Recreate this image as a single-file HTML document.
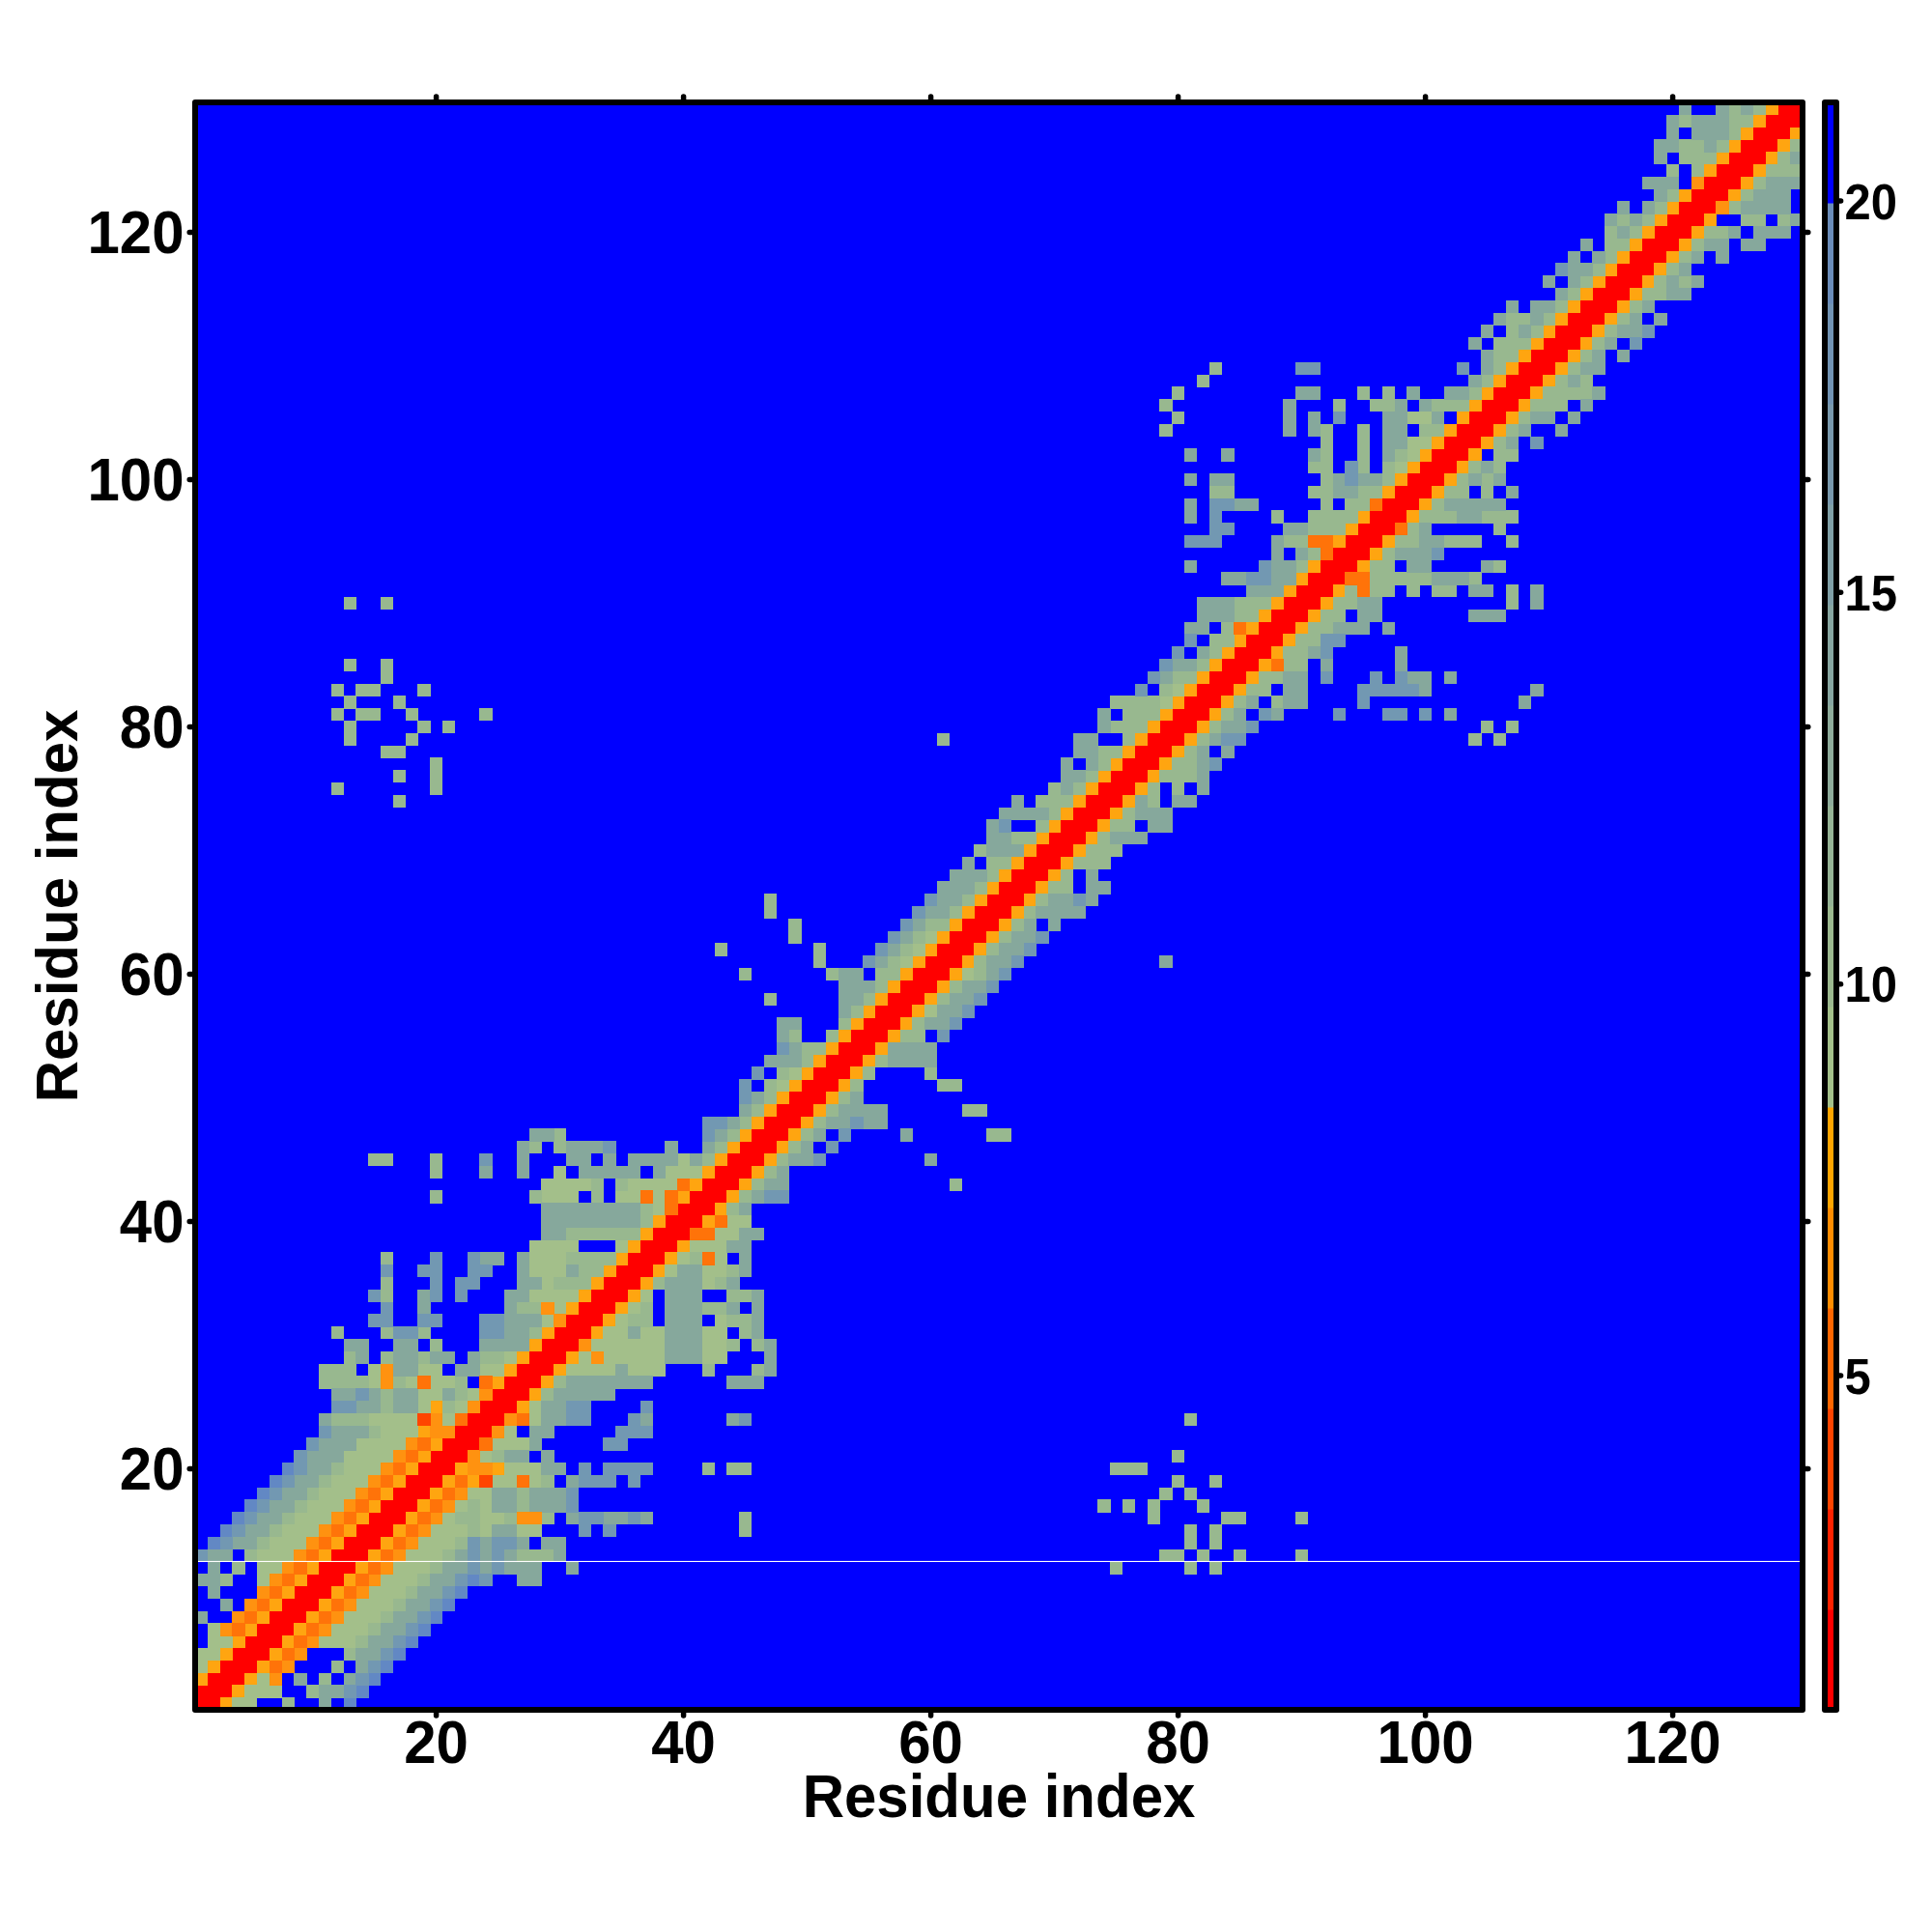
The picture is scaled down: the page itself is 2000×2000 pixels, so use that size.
<!DOCTYPE html>
<html lang="en"><head><meta charset="utf-8"><title>Residue contact map</title>
<style>html,body{margin:0;padding:0;background:#fff}body{width:2000px;height:2000px;overflow:hidden}svg{display:block}text{font-family:"Liberation Sans",Arial,Helvetica,sans-serif;font-weight:bold;fill:#000}.tl{font-size:60px}.cl{font-size:49px}.ttl{font-size:60px}</style></head><body>
<svg width="2000" height="2000" viewBox="0 0 2000 2000">
<rect x="0" y="0" width="2000" height="2000" fill="#fff"/>
<rect x="202" y="106" width="1664" height="1664" fill="#0000ff"/>
<g shape-rendering="crispEdges">
<path fill="#ff0000" d="M202 1757.2h25.9v13.1h-25.9zM202 1744.4h38.7v13.1h-38.7zM214.8 1731.6h38.7v13.1h-38.7zM227.6 1718.8h38.7v13.1h-38.7zM240.4 1706h38.7v13.1h-38.7zM253.2 1693.2h38.7v13.1h-38.7zM266 1680.4h38.7v13.1h-38.7zM278.8 1667.6h38.7v13.1h-38.7zM291.6 1654.8h38.7v13.1h-38.7zM304.4 1642h38.7v13.1h-38.7zM317.2 1629.2h38.7v13.1h-38.7zM330 1616.4h38.7v13.1h-38.7zM342.8 1603.6h38.7v13.1h-38.7zM355.6 1590.8h38.7v13.1h-38.7zM368.4 1578h38.7v13.1h-38.7zM381.2 1565.2h38.7v13.1h-38.7zM394 1552.4h38.7v13.1h-38.7zM406.8 1539.6h38.7v13.1h-38.7zM419.6 1526.8h38.7v13.1h-38.7zM432.4 1514h38.7v13.1h-38.7zM445.2 1501.2h38.7v13.1h-38.7zM458 1488.4h38.7v13.1h-38.7zM470.8 1475.6h38.7v13.1h-38.7zM483.6 1462.8h38.7v13.1h-38.7zM496.4 1450h38.7v13.1h-38.7zM509.2 1437.2h38.7v13.1h-38.7zM522 1424.4h38.7v13.1h-38.7zM534.8 1411.6h38.7v13.1h-38.7zM547.6 1398.8h38.7v13.1h-38.7zM560.4 1386h38.7v13.1h-38.7zM573.2 1373.2h38.7v13.1h-38.7zM586 1360.4h38.7v13.1h-38.7zM598.8 1347.6h38.7v13.1h-38.7zM611.6 1334.8h38.7v13.1h-38.7zM624.4 1322h38.7v13.1h-38.7zM637.2 1309.2h38.7v13.1h-38.7zM650 1296.4h38.7v13.1h-38.7zM662.8 1283.6h38.7v13.1h-38.7zM675.6 1270.8h38.7v13.1h-38.7zM688.4 1258h38.7v13.1h-38.7zM701.2 1245.2h38.7v13.1h-38.7zM714 1232.4h38.7v13.1h-38.7zM726.8 1219.6h38.7v13.1h-38.7zM739.6 1206.8h38.7v13.1h-38.7zM752.4 1194h38.7v13.1h-38.7zM765.2 1181.2h38.7v13.1h-38.7zM778 1168.4h38.7v13.1h-38.7zM790.8 1155.6h38.7v13.1h-38.7zM803.6 1142.8h38.7v13.1h-38.7zM816.4 1130h38.7v13.1h-38.7zM829.2 1117.2h38.7v13.1h-38.7zM842 1104.4h38.7v13.1h-38.7zM854.8 1091.6h38.7v13.1h-38.7zM867.6 1078.8h38.7v13.1h-38.7zM880.4 1066h38.7v13.1h-38.7zM893.2 1053.2h38.7v13.1h-38.7zM906 1040.4h38.7v13.1h-38.7zM918.8 1027.6h38.7v13.1h-38.7zM931.6 1014.8h38.7v13.1h-38.7zM944.4 1002h38.7v13.1h-38.7zM957.2 989.2h38.7v13.1h-38.7zM970 976.4h38.7v13.1h-38.7zM982.8 963.6h38.7v13.1h-38.7zM995.6 950.8h38.7v13.1h-38.7zM1008.4 938h38.7v13.1h-38.7zM1021.2 925.2h38.7v13.1h-38.7zM1034 912.4h38.7v13.1h-38.7zM1046.8 899.6h38.7v13.1h-38.7zM1059.6 886.8h38.7v13.1h-38.7zM1072.4 874h38.7v13.1h-38.7zM1085.2 861.2h38.7v13.1h-38.7zM1098 848.4h38.7v13.1h-38.7zM1110.8 835.6h38.7v13.1h-38.7zM1123.6 822.8h38.7v13.1h-38.7zM1136.4 810h38.7v13.1h-38.7zM1149.2 797.2h38.7v13.1h-38.7zM1162 784.4h38.7v13.1h-38.7zM1174.8 771.6h38.7v13.1h-38.7zM1187.6 758.8h38.7v13.1h-38.7zM1200.4 746h38.7v13.1h-38.7zM1213.2 733.2h38.7v13.1h-38.7zM1226 720.4h38.7v13.1h-38.7zM1238.8 707.6h38.7v13.1h-38.7zM1251.6 694.8h38.7v13.1h-38.7zM1264.4 682h38.7v13.1h-38.7zM1277.2 669.2h38.7v13.1h-38.7zM1290 656.4h38.7v13.1h-38.7zM1302.8 643.6h38.7v13.1h-38.7zM1315.6 630.8h38.7v13.1h-38.7zM1328.4 618h38.7v13.1h-38.7zM1341.2 605.2h38.7v13.1h-38.7zM1354 592.4h38.7v13.1h-38.7zM1366.8 579.6h38.7v13.1h-38.7zM1379.6 566.8h38.7v13.1h-38.7zM1392.4 554h38.7v13.1h-38.7zM1405.2 541.2h38.7v13.1h-38.7zM1418 528.4h38.7v13.1h-38.7zM1430.8 515.6h38.7v13.1h-38.7zM1443.6 502.8h38.7v13.1h-38.7zM1456.4 490h38.7v13.1h-38.7zM1469.2 477.2h38.7v13.1h-38.7zM1482 464.4h38.7v13.1h-38.7zM1494.8 451.6h38.7v13.1h-38.7zM1507.6 438.8h38.7v13.1h-38.7zM1520.4 426h38.7v13.1h-38.7zM1533.2 413.2h38.7v13.1h-38.7zM1546 400.4h38.7v13.1h-38.7zM1558.8 387.6h38.7v13.1h-38.7zM1571.6 374.8h38.7v13.1h-38.7zM1584.4 362h38.7v13.1h-38.7zM1597.2 349.2h38.7v13.1h-38.7zM1610 336.4h38.7v13.1h-38.7zM1622.8 323.6h38.7v13.1h-38.7zM1635.6 310.8h38.7v13.1h-38.7zM1648.4 298h38.7v13.1h-38.7zM1661.2 285.2h38.7v13.1h-38.7zM1674 272.4h38.7v13.1h-38.7zM1686.8 259.6h38.7v13.1h-38.7zM1699.6 246.8h38.7v13.1h-38.7zM1712.4 234h38.7v13.1h-38.7zM1725.2 221.2h38.7v13.1h-38.7zM1738 208.4h38.7v13.1h-38.7zM1750.8 195.6h38.7v13.1h-38.7zM1763.6 182.8h38.7v13.1h-38.7zM1776.4 170h38.7v13.1h-38.7zM1789.2 157.2h38.7v13.1h-38.7zM1802 144.4h38.7v13.1h-38.7zM1814.8 131.6h38.7v13.1h-38.7zM1827.6 118.8h38.7v13.1h-38.7zM1840.4 106h25.9v13.1h-25.9z"/>
<path fill="#ffa510" d="M227.6 1757.2h13.1v13.1h-13.1zM240.4 1744.4h13.1v13.1h-13.1zM202 1731.6h13.1v13.1h-13.1zM253.2 1731.6h13.1v13.1h-13.1zM214.8 1718.8h13.1v13.1h-13.1zM266 1718.8h13.1v13.1h-13.1zM227.6 1706h13.1v13.1h-13.1zM278.8 1706h13.1v13.1h-13.1zM240.4 1693.2h13.1v13.1h-13.1zM291.6 1693.2h13.1v13.1h-13.1zM253.2 1680.4h13.1v13.1h-13.1zM304.4 1680.4h13.1v13.1h-13.1zM266 1667.6h13.1v13.1h-13.1zM317.2 1667.6h13.1v13.1h-13.1zM278.8 1654.8h13.1v13.1h-13.1zM330 1654.8h13.1v13.1h-13.1zM291.6 1642h13.1v13.1h-13.1zM342.8 1642h13.1v13.1h-13.1zM304.4 1629.2h13.1v13.1h-13.1zM355.6 1629.2h13.1v13.1h-13.1zM317.2 1616.4h13.1v13.1h-13.1zM368.4 1616.4h13.1v13.1h-13.1zM330 1603.6h13.1v13.1h-13.1zM381.2 1603.6h13.1v13.1h-13.1zM342.8 1590.8h13.1v13.1h-13.1zM394 1590.8h13.1v13.1h-13.1zM355.6 1578h13.1v13.1h-13.1zM406.8 1578h13.1v13.1h-13.1zM368.4 1565.2h13.1v13.1h-13.1zM419.6 1565.2h13.1v13.1h-13.1zM381.2 1552.4h13.1v13.1h-13.1zM432.4 1552.4h13.1v13.1h-13.1zM394 1539.6h13.1v13.1h-13.1zM445.2 1539.6h13.1v13.1h-13.1zM406.8 1526.8h13.1v13.1h-13.1zM458 1526.8h13.1v13.1h-13.1zM483.6 1526.8h13.1v13.1h-13.1zM419.6 1514h13.1v13.1h-13.1zM470.8 1514h13.1v13.1h-13.1zM509.2 1514h13.1v13.1h-13.1zM432.4 1501.2h13.1v13.1h-13.1zM445.2 1488.4h13.1v13.1h-13.1zM432.4 1475.6h13.1v13.1h-13.1zM445.2 1450h13.1v13.1h-13.1zM534.8 1450h13.1v13.1h-13.1zM547.6 1437.2h13.1v13.1h-13.1zM509.2 1424.4h13.1v13.1h-13.1zM560.4 1424.4h13.1v13.1h-13.1zM522 1411.6h13.1v13.1h-13.1zM573.2 1411.6h13.1v13.1h-13.1zM534.8 1398.8h13.1v13.1h-13.1zM586 1398.8h13.1v13.1h-13.1zM547.6 1386h13.1v13.1h-13.1zM560.4 1373.2h13.1v13.1h-13.1zM611.6 1373.2h13.1v13.1h-13.1zM624.4 1360.4h13.1v13.1h-13.1zM586 1347.6h13.1v13.1h-13.1zM637.2 1347.6h13.1v13.1h-13.1zM598.8 1334.8h13.1v13.1h-13.1zM650 1334.8h13.1v13.1h-13.1zM611.6 1322h13.1v13.1h-13.1zM662.8 1322h13.1v13.1h-13.1zM624.4 1309.2h13.1v13.1h-13.1zM675.6 1309.2h13.1v13.1h-13.1zM637.2 1296.4h13.1v13.1h-13.1zM688.4 1296.4h13.1v13.1h-13.1zM650 1283.6h13.1v13.1h-13.1zM701.2 1283.6h13.1v13.1h-13.1zM662.8 1270.8h13.1v13.1h-13.1zM675.6 1258h13.1v13.1h-13.1zM726.8 1258h13.1v13.1h-13.1zM739.6 1245.2h13.1v13.1h-13.1zM701.2 1232.4h13.1v13.1h-13.1zM752.4 1232.4h13.1v13.1h-13.1zM714 1219.6h13.1v13.1h-13.1zM765.2 1219.6h13.1v13.1h-13.1zM726.8 1206.8h13.1v13.1h-13.1zM778 1206.8h13.1v13.1h-13.1zM739.6 1194h13.1v13.1h-13.1zM790.8 1194h13.1v13.1h-13.1zM752.4 1181.2h13.1v13.1h-13.1zM803.6 1181.2h13.1v13.1h-13.1zM765.2 1168.4h13.1v13.1h-13.1zM816.4 1168.4h13.1v13.1h-13.1zM778 1155.6h13.1v13.1h-13.1zM829.2 1155.6h13.1v13.1h-13.1zM790.8 1142.8h13.1v13.1h-13.1zM842 1142.8h13.1v13.1h-13.1zM803.6 1130h13.1v13.1h-13.1zM854.8 1130h13.1v13.1h-13.1zM816.4 1117.2h13.1v13.1h-13.1zM867.6 1117.2h13.1v13.1h-13.1zM829.2 1104.4h13.1v13.1h-13.1zM880.4 1104.4h13.1v13.1h-13.1zM842 1091.6h13.1v13.1h-13.1zM893.2 1091.6h13.1v13.1h-13.1zM854.8 1078.8h13.1v13.1h-13.1zM906 1078.8h13.1v13.1h-13.1zM867.6 1066h13.1v13.1h-13.1zM918.8 1066h13.1v13.1h-13.1zM880.4 1053.2h13.1v13.1h-13.1zM931.6 1053.2h13.1v13.1h-13.1zM893.2 1040.4h13.1v13.1h-13.1zM944.4 1040.4h13.1v13.1h-13.1zM906 1027.6h13.1v13.1h-13.1zM957.2 1027.6h13.1v13.1h-13.1zM918.8 1014.8h13.1v13.1h-13.1zM970 1014.8h13.1v13.1h-13.1zM931.6 1002h13.1v13.1h-13.1zM982.8 1002h13.1v13.1h-13.1zM944.4 989.2h13.1v13.1h-13.1zM995.6 989.2h13.1v13.1h-13.1zM957.2 976.4h13.1v13.1h-13.1zM1008.4 976.4h13.1v13.1h-13.1zM970 963.6h13.1v13.1h-13.1zM1021.2 963.6h13.1v13.1h-13.1zM982.8 950.8h13.1v13.1h-13.1zM1034 950.8h13.1v13.1h-13.1zM995.6 938h13.1v13.1h-13.1zM1046.8 938h13.1v13.1h-13.1zM1008.4 925.2h13.1v13.1h-13.1zM1059.6 925.2h13.1v13.1h-13.1zM1021.2 912.4h13.1v13.1h-13.1zM1072.4 912.4h13.1v13.1h-13.1zM1034 899.6h13.1v13.1h-13.1zM1085.2 899.6h13.1v13.1h-13.1zM1046.8 886.8h13.1v13.1h-13.1zM1098 886.8h13.1v13.1h-13.1zM1059.6 874h13.1v13.1h-13.1zM1110.8 874h13.1v13.1h-13.1zM1072.4 861.2h13.1v13.1h-13.1zM1123.6 861.2h13.1v13.1h-13.1zM1085.2 848.4h13.1v13.1h-13.1zM1136.4 848.4h13.1v13.1h-13.1zM1098 835.6h13.1v13.1h-13.1zM1149.2 835.6h13.1v13.1h-13.1zM1110.8 822.8h13.1v13.1h-13.1zM1162 822.8h13.1v13.1h-13.1zM1123.6 810h13.1v13.1h-13.1zM1174.8 810h13.1v13.1h-13.1zM1136.4 797.2h13.1v13.1h-13.1zM1187.6 797.2h13.1v13.1h-13.1zM1149.2 784.4h13.1v13.1h-13.1zM1200.4 784.4h13.1v13.1h-13.1zM1162 771.6h13.1v13.1h-13.1zM1213.2 771.6h13.1v13.1h-13.1zM1174.8 758.8h13.1v13.1h-13.1zM1226 758.8h13.1v13.1h-13.1zM1187.6 746h13.1v13.1h-13.1zM1238.8 746h13.1v13.1h-13.1zM1200.4 733.2h13.1v13.1h-13.1zM1251.6 733.2h13.1v13.1h-13.1zM1213.2 720.4h13.1v13.1h-13.1zM1264.4 720.4h13.1v13.1h-13.1zM1226 707.6h13.1v13.1h-13.1zM1277.2 707.6h13.1v13.1h-13.1zM1238.8 694.8h13.1v13.1h-13.1zM1290 694.8h13.1v13.1h-13.1zM1251.6 682h13.1v13.1h-13.1zM1302.8 682h13.1v13.1h-13.1zM1264.4 669.2h13.1v13.1h-13.1zM1315.6 669.2h13.1v13.1h-13.1zM1277.2 656.4h13.1v13.1h-13.1zM1328.4 656.4h13.1v13.1h-13.1zM1290 643.6h13.1v13.1h-13.1zM1341.2 643.6h13.1v13.1h-13.1zM1302.8 630.8h13.1v13.1h-13.1zM1354 630.8h13.1v13.1h-13.1zM1315.6 618h13.1v13.1h-13.1zM1366.8 618h13.1v13.1h-13.1zM1328.4 605.2h13.1v13.1h-13.1zM1379.6 605.2h13.1v13.1h-13.1zM1341.2 592.4h13.1v13.1h-13.1zM1354 579.6h13.1v13.1h-13.1zM1405.2 579.6h13.1v13.1h-13.1zM1418 566.8h13.1v13.1h-13.1zM1379.6 554h13.1v13.1h-13.1zM1430.8 554h13.1v13.1h-13.1zM1392.4 541.2h13.1v13.1h-13.1zM1405.2 528.4h13.1v13.1h-13.1zM1456.4 528.4h13.1v13.1h-13.1zM1469.2 515.6h13.1v13.1h-13.1zM1430.8 502.8h13.1v13.1h-13.1zM1482 502.8h13.1v13.1h-13.1zM1443.6 490h13.1v13.1h-13.1zM1494.8 490h13.1v13.1h-13.1zM1456.4 477.2h13.1v13.1h-13.1zM1507.6 477.2h13.1v13.1h-13.1zM1469.2 464.4h13.1v13.1h-13.1zM1520.4 464.4h13.1v13.1h-13.1zM1482 451.6h13.1v13.1h-13.1zM1533.2 451.6h13.1v13.1h-13.1zM1494.8 438.8h13.1v13.1h-13.1zM1546 438.8h13.1v13.1h-13.1zM1507.6 426h13.1v13.1h-13.1zM1558.8 426h13.1v13.1h-13.1zM1520.4 413.2h13.1v13.1h-13.1zM1571.6 413.2h13.1v13.1h-13.1zM1533.2 400.4h13.1v13.1h-13.1zM1584.4 400.4h13.1v13.1h-13.1zM1546 387.6h13.1v13.1h-13.1zM1597.2 387.6h13.1v13.1h-13.1zM1558.8 374.8h13.1v13.1h-13.1zM1610 374.8h13.1v13.1h-13.1zM1571.6 362h13.1v13.1h-13.1zM1622.8 362h13.1v13.1h-13.1zM1584.4 349.2h13.1v13.1h-13.1zM1635.6 349.2h13.1v13.1h-13.1zM1597.2 336.4h13.1v13.1h-13.1zM1648.4 336.4h13.1v13.1h-13.1zM1610 323.6h13.1v13.1h-13.1zM1661.2 323.6h13.1v13.1h-13.1zM1622.8 310.8h13.1v13.1h-13.1zM1674 310.8h13.1v13.1h-13.1zM1635.6 298h13.1v13.1h-13.1zM1686.8 298h13.1v13.1h-13.1zM1648.4 285.2h13.1v13.1h-13.1zM1699.6 285.2h13.1v13.1h-13.1zM1661.2 272.4h13.1v13.1h-13.1zM1712.4 272.4h13.1v13.1h-13.1zM1674 259.6h13.1v13.1h-13.1zM1725.2 259.6h13.1v13.1h-13.1zM1686.8 246.8h13.1v13.1h-13.1zM1738 246.8h13.1v13.1h-13.1zM1699.6 234h13.1v13.1h-13.1zM1750.8 234h13.1v13.1h-13.1zM1712.4 221.2h13.1v13.1h-13.1zM1763.6 221.2h13.1v13.1h-13.1zM1725.2 208.4h13.1v13.1h-13.1zM1738 195.6h13.1v13.1h-13.1zM1789.2 195.6h13.1v13.1h-13.1zM1802 182.8h13.1v13.1h-13.1zM1763.6 170h13.1v13.1h-13.1zM1814.8 170h13.1v13.1h-13.1zM1776.4 157.2h13.1v13.1h-13.1zM1827.6 157.2h13.1v13.1h-13.1zM1789.2 144.4h13.1v13.1h-13.1zM1840.4 144.4h13.1v13.1h-13.1zM1802 131.6h13.1v13.1h-13.1zM1853.2 131.6h13.1v13.1h-13.1zM1814.8 118.8h13.1v13.1h-13.1zM1827.6 106h13.1v13.1h-13.1z"/>
<path fill="#a3bf8a" d="M240.4 1757.2h25.9v13.1h-25.9zM253.2 1744.4h38.7v13.1h-38.7zM266 1731.6h13.1v13.1h-13.1zM202 1718.8h13.1v13.1h-13.1zM202 1706h25.9v13.1h-25.9zM214.8 1693.2h25.9v13.1h-25.9zM330 1693.2h38.7v13.1h-38.7zM214.8 1680.4h13.1v13.1h-13.1zM342.8 1680.4h38.7v13.1h-38.7zM355.6 1667.6h38.7v13.1h-38.7zM368.4 1654.8h38.7v13.1h-38.7zM381.2 1642h38.7v13.1h-38.7zM266 1629.2h13.1v13.1h-13.1zM394 1629.2h38.7v13.1h-38.7zM266 1616.4h25.9v13.1h-25.9zM406.8 1616.4h38.7v13.1h-38.7zM266 1603.6h38.7v13.1h-38.7zM419.6 1603.6h38.7v13.1h-38.7zM278.8 1590.8h38.7v13.1h-38.7zM432.4 1590.8h38.7v13.1h-38.7zM291.6 1578h38.7v13.1h-38.7zM445.2 1578h38.7v13.1h-38.7zM496.4 1578h13.1v13.1h-13.1zM534.8 1578h25.9v13.1h-25.9zM304.4 1565.2h38.7v13.1h-38.7zM458 1565.2h13.1v13.1h-13.1zM496.4 1565.2h25.9v13.1h-25.9zM317.2 1552.4h38.7v13.1h-38.7zM470.8 1552.4h13.1v13.1h-13.1zM496.4 1552.4h13.1v13.1h-13.1zM330 1539.6h38.7v13.1h-38.7zM483.6 1539.6h25.9v13.1h-25.9zM342.8 1526.8h38.7v13.1h-38.7zM509.2 1526.8h25.9v13.1h-25.9zM547.6 1526.8h13.1v13.1h-13.1zM355.6 1514h38.7v13.1h-38.7zM522 1514h38.7v13.1h-38.7zM355.6 1501.2h51.5v13.1h-51.5zM496.4 1501.2h13.1v13.1h-13.1zM368.4 1488.4h51.5v13.1h-51.5zM509.2 1488.4h38.7v13.1h-38.7zM394 1475.6h38.7v13.1h-38.7zM522 1475.6h13.1v13.1h-13.1zM381.2 1462.8h51.5v13.1h-51.5zM458 1462.8h13.1v13.1h-13.1zM547.6 1462.8h13.1v13.1h-13.1zM432.4 1450h13.1v13.1h-13.1zM470.8 1450h13.1v13.1h-13.1zM547.6 1450h13.1v13.1h-13.1zM432.4 1437.2h25.9v13.1h-25.9zM483.6 1437.2h13.1v13.1h-13.1zM381.2 1424.4h13.1v13.1h-13.1zM419.6 1424.4h13.1v13.1h-13.1zM445.2 1424.4h25.9v13.1h-25.9zM381.2 1411.6h13.1v13.1h-13.1zM432.4 1411.6h25.9v13.1h-25.9zM496.4 1411.6h25.9v13.1h-25.9zM586 1411.6h51.5v13.1h-51.5zM650 1411.6h38.7v13.1h-38.7zM522 1398.8h13.1v13.1h-13.1zM598.8 1398.8h13.1v13.1h-13.1zM624.4 1398.8h64.2v13.1h-64.2zM726.8 1398.8h25.9v13.1h-25.9zM611.6 1386h77.1v13.1h-77.1zM726.8 1386h25.9v13.1h-25.9zM624.4 1373.2h25.9v13.1h-25.9zM662.8 1373.2h25.9v13.1h-25.9zM726.8 1373.2h25.9v13.1h-25.9zM560.4 1360.4h13.1v13.1h-13.1zM637.2 1360.4h13.1v13.1h-13.1zM739.6 1360.4h13.1v13.1h-13.1zM573.2 1347.6h13.1v13.1h-13.1zM650 1347.6h13.1v13.1h-13.1zM547.6 1334.8h51.5v13.1h-51.5zM662.8 1334.8h13.1v13.1h-13.1zM560.4 1322h13.1v13.1h-13.1zM726.8 1322h13.1v13.1h-13.1zM547.6 1309.2h38.7v13.1h-38.7zM688.4 1309.2h13.1v13.1h-13.1zM726.8 1309.2h25.9v13.1h-25.9zM547.6 1296.4h38.7v13.1h-38.7zM701.2 1296.4h13.1v13.1h-13.1zM739.6 1296.4h13.1v13.1h-13.1zM547.6 1283.6h51.5v13.1h-51.5zM637.2 1283.6h13.1v13.1h-13.1zM714 1283.6h38.7v13.1h-38.7zM739.6 1270.8h25.9v13.1h-25.9zM752.4 1258h25.9v13.1h-25.9zM675.6 1245.2h13.1v13.1h-13.1zM560.4 1232.4h38.7v13.1h-38.7zM637.2 1232.4h25.9v13.1h-25.9zM675.6 1232.4h13.1v13.1h-13.1zM560.4 1219.6h51.5v13.1h-51.5zM650 1219.6h51.5v13.1h-51.5zM573.2 1206.8h13.1v13.1h-13.1zM688.4 1206.8h38.7v13.1h-38.7zM701.2 1194h13.1v13.1h-13.1zM803.6 1117.2h13.1v13.1h-13.1zM816.4 1104.4h13.1v13.1h-13.1zM957.2 1040.4h13.1v13.1h-13.1zM995.6 1002h13.1v13.1h-13.1zM931.6 989.2h13.1v13.1h-13.1zM944.4 976.4h13.1v13.1h-13.1zM957.2 963.6h13.1v13.1h-13.1zM1200.4 720.4h13.1v13.1h-13.1zM1213.2 707.6h13.1v13.1h-13.1zM1443.6 477.2h13.1v13.1h-13.1zM1456.4 464.4h13.1v13.1h-13.1zM1456.4 451.6h25.9v13.1h-25.9zM1456.4 426h25.9v13.1h-25.9z"/>
<path fill="#98b88f" d="M291.6 1757.2h13.1v13.1h-13.1zM317.2 1744.4h13.1v13.1h-13.1zM330 1731.6h13.1v13.1h-13.1zM342.8 1718.8h13.1v13.1h-13.1zM355.6 1706h13.1v13.1h-13.1zM368.4 1693.2h13.1v13.1h-13.1zM381.2 1680.4h13.1v13.1h-13.1zM394 1667.6h13.1v13.1h-13.1zM406.8 1654.8h13.1v13.1h-13.1zM419.6 1642h13.1v13.1h-13.1zM227.6 1629.2h13.1v13.1h-13.1zM432.4 1629.2h13.1v13.1h-13.1zM240.4 1616.4h13.1v13.1h-13.1zM445.2 1616.4h13.1v13.1h-13.1zM1149.2 1616.4h13.1v13.1h-13.1zM1226 1616.4h13.1v13.1h-13.1zM1251.6 1616.4h13.1v13.1h-13.1zM253.2 1603.6h13.1v13.1h-13.1zM458 1603.6h13.1v13.1h-13.1zM534.8 1603.6h38.7v13.1h-38.7zM1200.4 1603.6h25.9v13.1h-25.9zM1238.8 1603.6h13.1v13.1h-13.1zM1277.2 1603.6h13.1v13.1h-13.1zM1341.2 1603.6h13.1v13.1h-13.1zM266 1590.8h13.1v13.1h-13.1zM470.8 1590.8h13.1v13.1h-13.1zM1226 1590.8h13.1v13.1h-13.1zM1251.6 1590.8h13.1v13.1h-13.1zM278.8 1578h13.1v13.1h-13.1zM483.6 1578h13.1v13.1h-13.1zM765.2 1578h13.1v13.1h-13.1zM1226 1578h13.1v13.1h-13.1zM1251.6 1578h13.1v13.1h-13.1zM291.6 1565.2h13.1v13.1h-13.1zM470.8 1565.2h25.9v13.1h-25.9zM522 1565.2h13.1v13.1h-13.1zM560.4 1565.2h13.1v13.1h-13.1zM765.2 1565.2h13.1v13.1h-13.1zM1187.6 1565.2h13.1v13.1h-13.1zM1264.4 1565.2h25.9v13.1h-25.9zM1341.2 1565.2h13.1v13.1h-13.1zM304.4 1552.4h13.1v13.1h-13.1zM483.6 1552.4h13.1v13.1h-13.1zM534.8 1552.4h13.1v13.1h-13.1zM1136.4 1552.4h13.1v13.1h-13.1zM1162 1552.4h13.1v13.1h-13.1zM1187.6 1552.4h13.1v13.1h-13.1zM1238.8 1552.4h13.1v13.1h-13.1zM317.2 1539.6h13.1v13.1h-13.1zM534.8 1539.6h13.1v13.1h-13.1zM1200.4 1539.6h13.1v13.1h-13.1zM1226 1539.6h13.1v13.1h-13.1zM330 1526.8h13.1v13.1h-13.1zM560.4 1526.8h13.1v13.1h-13.1zM1213.2 1526.8h13.1v13.1h-13.1zM1251.6 1526.8h13.1v13.1h-13.1zM342.8 1514h13.1v13.1h-13.1zM726.8 1514h13.1v13.1h-13.1zM752.4 1514h25.9v13.1h-25.9zM1149.2 1514h38.7v13.1h-38.7zM509.2 1501.2h13.1v13.1h-13.1zM1213.2 1501.2h13.1v13.1h-13.1zM381.2 1475.6h13.1v13.1h-13.1zM342.8 1462.8h38.7v13.1h-38.7zM1226 1462.8h13.1v13.1h-13.1zM394 1450h13.1v13.1h-13.1zM458 1450h13.1v13.1h-13.1zM394 1437.2h13.1v13.1h-13.1zM470.8 1437.2h13.1v13.1h-13.1zM560.4 1437.2h13.1v13.1h-13.1zM330 1424.4h51.5v13.1h-51.5zM406.8 1424.4h13.1v13.1h-13.1zM470.8 1424.4h13.1v13.1h-13.1zM573.2 1424.4h13.1v13.1h-13.1zM330 1411.6h38.7v13.1h-38.7zM726.8 1411.6h13.1v13.1h-13.1zM778 1411.6h13.1v13.1h-13.1zM355.6 1398.8h13.1v13.1h-13.1zM394 1398.8h13.1v13.1h-13.1zM432.4 1398.8h13.1v13.1h-13.1zM496.4 1398.8h25.9v13.1h-25.9zM445.2 1386h13.1v13.1h-13.1zM752.4 1386h13.1v13.1h-13.1zM778 1386h13.1v13.1h-13.1zM342.8 1373.2h13.1v13.1h-13.1zM394 1373.2h13.1v13.1h-13.1zM432.4 1373.2h13.1v13.1h-13.1zM547.6 1373.2h13.1v13.1h-13.1zM765.2 1373.2h13.1v13.1h-13.1zM650 1360.4h25.9v13.1h-25.9zM752.4 1360.4h25.9v13.1h-25.9zM534.8 1347.6h25.9v13.1h-25.9zM662.8 1347.6h13.1v13.1h-13.1zM726.8 1347.6h25.9v13.1h-25.9zM394 1334.8h13.1v13.1h-13.1zM752.4 1334.8h25.9v13.1h-25.9zM394 1322h13.1v13.1h-13.1zM573.2 1322h38.7v13.1h-38.7zM675.6 1322h13.1v13.1h-13.1zM739.6 1322h13.1v13.1h-13.1zM598.8 1309.2h25.9v13.1h-25.9zM752.4 1309.2h13.1v13.1h-13.1zM394 1296.4h13.1v13.1h-13.1zM586 1296.4h51.5v13.1h-51.5zM714 1296.4h13.1v13.1h-13.1zM586 1270.8h77.1v13.1h-77.1zM662.8 1258h13.1v13.1h-13.1zM662.8 1245.2h13.1v13.1h-13.1zM752.4 1245.2h13.1v13.1h-13.1zM445.2 1232.4h13.1v13.1h-13.1zM547.6 1232.4h13.1v13.1h-13.1zM611.6 1232.4h13.1v13.1h-13.1zM765.2 1232.4h13.1v13.1h-13.1zM611.6 1219.6h13.1v13.1h-13.1zM637.2 1219.6h13.1v13.1h-13.1zM778 1219.6h13.1v13.1h-13.1zM982.8 1219.6h13.1v13.1h-13.1zM445.2 1206.8h13.1v13.1h-13.1zM790.8 1206.8h13.1v13.1h-13.1zM381.2 1194h25.9v13.1h-25.9zM445.2 1194h13.1v13.1h-13.1zM726.8 1194h13.1v13.1h-13.1zM803.6 1194h13.1v13.1h-13.1zM547.6 1181.2h13.1v13.1h-13.1zM573.2 1181.2h13.1v13.1h-13.1zM739.6 1181.2h13.1v13.1h-13.1zM816.4 1181.2h13.1v13.1h-13.1zM573.2 1168.4h13.1v13.1h-13.1zM752.4 1168.4h13.1v13.1h-13.1zM829.2 1168.4h13.1v13.1h-13.1zM1021.2 1168.4h25.9v13.1h-25.9zM765.2 1155.6h13.1v13.1h-13.1zM842 1155.6h13.1v13.1h-13.1zM778 1142.8h13.1v13.1h-13.1zM854.8 1142.8h13.1v13.1h-13.1zM995.6 1142.8h25.9v13.1h-25.9zM790.8 1130h13.1v13.1h-13.1zM867.6 1130h13.1v13.1h-13.1zM790.8 1117.2h13.1v13.1h-13.1zM880.4 1117.2h13.1v13.1h-13.1zM970 1117.2h25.9v13.1h-25.9zM803.6 1104.4h13.1v13.1h-13.1zM893.2 1104.4h13.1v13.1h-13.1zM957.2 1104.4h13.1v13.1h-13.1zM829.2 1091.6h13.1v13.1h-13.1zM906 1091.6h13.1v13.1h-13.1zM829.2 1078.8h25.9v13.1h-25.9zM816.4 1066h13.1v13.1h-13.1zM854.8 1066h13.1v13.1h-13.1zM931.6 1066h25.9v13.1h-25.9zM867.6 1053.2h13.1v13.1h-13.1zM944.4 1053.2h13.1v13.1h-13.1zM880.4 1040.4h13.1v13.1h-13.1zM790.8 1027.6h13.1v13.1h-13.1zM893.2 1027.6h13.1v13.1h-13.1zM970 1027.6h13.1v13.1h-13.1zM906 1014.8h13.1v13.1h-13.1zM982.8 1014.8h13.1v13.1h-13.1zM765.2 1002h13.1v13.1h-13.1zM854.8 1002h13.1v13.1h-13.1zM906 1002h25.9v13.1h-25.9zM1008.4 1002h13.1v13.1h-13.1zM842 989.2h13.1v13.1h-13.1zM918.8 989.2h13.1v13.1h-13.1zM1008.4 989.2h13.1v13.1h-13.1zM739.6 976.4h13.1v13.1h-13.1zM842 976.4h13.1v13.1h-13.1zM931.6 976.4h13.1v13.1h-13.1zM1021.2 976.4h13.1v13.1h-13.1zM816.4 963.6h13.1v13.1h-13.1zM944.4 963.6h13.1v13.1h-13.1zM1034 963.6h13.1v13.1h-13.1zM816.4 950.8h13.1v13.1h-13.1zM957.2 950.8h25.9v13.1h-25.9zM1046.8 950.8h13.1v13.1h-13.1zM790.8 938h13.1v13.1h-13.1zM982.8 938h13.1v13.1h-13.1zM1059.6 938h13.1v13.1h-13.1zM790.8 925.2h13.1v13.1h-13.1zM995.6 925.2h13.1v13.1h-13.1zM1072.4 925.2h13.1v13.1h-13.1zM1008.4 912.4h13.1v13.1h-13.1zM1085.2 912.4h25.9v13.1h-25.9zM1021.2 899.6h13.1v13.1h-13.1zM1098 899.6h13.1v13.1h-13.1zM1021.2 886.8h25.9v13.1h-25.9zM1110.8 886.8h38.7v13.1h-38.7zM1008.4 874h13.1v13.1h-13.1zM1123.6 874h38.7v13.1h-38.7zM1046.8 861.2h25.9v13.1h-25.9zM1136.4 861.2h13.1v13.1h-13.1zM1072.4 848.4h13.1v13.1h-13.1zM1149.2 848.4h25.9v13.1h-25.9zM1085.2 835.6h13.1v13.1h-13.1zM1162 835.6h13.1v13.1h-13.1zM406.8 822.8h13.1v13.1h-13.1zM1072.4 822.8h38.7v13.1h-38.7zM1187.6 822.8h13.1v13.1h-13.1zM342.8 810h13.1v13.1h-13.1zM445.2 810h13.1v13.1h-13.1zM1085.2 810h13.1v13.1h-13.1zM1110.8 810h13.1v13.1h-13.1zM1187.6 810h13.1v13.1h-13.1zM1213.2 810h13.1v13.1h-13.1zM406.8 797.2h13.1v13.1h-13.1zM445.2 797.2h13.1v13.1h-13.1zM1123.6 797.2h13.1v13.1h-13.1zM1200.4 797.2h38.7v13.1h-38.7zM445.2 784.4h13.1v13.1h-13.1zM1136.4 784.4h13.1v13.1h-13.1zM1213.2 784.4h25.9v13.1h-25.9zM394 771.6h25.9v13.1h-25.9zM1136.4 771.6h25.9v13.1h-25.9zM1226 771.6h13.1v13.1h-13.1zM355.6 758.8h13.1v13.1h-13.1zM419.6 758.8h13.1v13.1h-13.1zM970 758.8h13.1v13.1h-13.1zM1162 758.8h13.1v13.1h-13.1zM1238.8 758.8h13.1v13.1h-13.1zM1520.4 758.8h13.1v13.1h-13.1zM1546 758.8h13.1v13.1h-13.1zM355.6 746h13.1v13.1h-13.1zM432.4 746h13.1v13.1h-13.1zM458 746h13.1v13.1h-13.1zM1149.2 746h38.7v13.1h-38.7zM1251.6 746h13.1v13.1h-13.1zM1533.2 746h13.1v13.1h-13.1zM1558.8 746h13.1v13.1h-13.1zM342.8 733.2h13.1v13.1h-13.1zM368.4 733.2h25.9v13.1h-25.9zM419.6 733.2h13.1v13.1h-13.1zM496.4 733.2h13.1v13.1h-13.1zM1162 733.2h38.7v13.1h-38.7zM1264.4 733.2h13.1v13.1h-13.1zM355.6 720.4h13.1v13.1h-13.1zM406.8 720.4h13.1v13.1h-13.1zM1149.2 720.4h51.5v13.1h-51.5zM1277.2 720.4h13.1v13.1h-13.1zM1315.6 720.4h13.1v13.1h-13.1zM342.8 707.6h13.1v13.1h-13.1zM368.4 707.6h25.9v13.1h-25.9zM432.4 707.6h13.1v13.1h-13.1zM1200.4 707.6h13.1v13.1h-13.1zM1290 707.6h25.9v13.1h-25.9zM394 694.8h13.1v13.1h-13.1zM1213.2 694.8h25.9v13.1h-25.9zM1302.8 694.8h25.9v13.1h-25.9zM355.6 682h13.1v13.1h-13.1zM394 682h13.1v13.1h-13.1zM1238.8 682h13.1v13.1h-13.1zM1328.4 682h25.9v13.1h-25.9zM1251.6 669.2h13.1v13.1h-13.1zM1328.4 669.2h25.9v13.1h-25.9zM1251.6 656.4h25.9v13.1h-25.9zM1341.2 656.4h25.9v13.1h-25.9zM1264.4 643.6h13.1v13.1h-13.1zM1354 643.6h25.9v13.1h-25.9zM1277.2 630.8h25.9v13.1h-25.9zM1366.8 630.8h25.9v13.1h-25.9zM355.6 618h13.1v13.1h-13.1zM394 618h13.1v13.1h-13.1zM1277.2 618h38.7v13.1h-38.7zM1379.6 618h25.9v13.1h-25.9zM1558.8 618h13.1v13.1h-13.1zM1392.4 605.2h13.1v13.1h-13.1zM1418 605.2h25.9v13.1h-25.9zM1456.4 605.2h13.1v13.1h-13.1zM1482 605.2h25.9v13.1h-25.9zM1558.8 605.2h13.1v13.1h-13.1zM1418 592.4h64.2v13.1h-64.2zM1520.4 592.4h13.1v13.1h-13.1zM1341.2 579.6h13.1v13.1h-13.1zM1418 579.6h25.9v13.1h-25.9zM1546 579.6h13.1v13.1h-13.1zM1354 566.8h13.1v13.1h-13.1zM1430.8 566.8h13.1v13.1h-13.1zM1328.4 554h25.9v13.1h-25.9zM1443.6 554h25.9v13.1h-25.9zM1494.8 554h38.7v13.1h-38.7zM1558.8 554h13.1v13.1h-13.1zM1354 541.2h38.7v13.1h-38.7zM1456.4 541.2h13.1v13.1h-13.1zM1546 541.2h13.1v13.1h-13.1zM1315.6 528.4h13.1v13.1h-13.1zM1354 528.4h51.5v13.1h-51.5zM1469.2 528.4h38.7v13.1h-38.7zM1533.2 528.4h38.7v13.1h-38.7zM1366.8 515.6h13.1v13.1h-13.1zM1392.4 515.6h25.9v13.1h-25.9zM1482 515.6h13.1v13.1h-13.1zM1251.6 502.8h25.9v13.1h-25.9zM1354 502.8h25.9v13.1h-25.9zM1405.2 502.8h25.9v13.1h-25.9zM1494.8 502.8h25.9v13.1h-25.9zM1533.2 502.8h13.1v13.1h-13.1zM1366.8 490h13.1v13.1h-13.1zM1430.8 490h13.1v13.1h-13.1zM1507.6 490h13.1v13.1h-13.1zM1533.2 490h13.1v13.1h-13.1zM1354 477.2h25.9v13.1h-25.9zM1405.2 477.2h13.1v13.1h-13.1zM1430.8 477.2h13.1v13.1h-13.1zM1520.4 477.2h13.1v13.1h-13.1zM1546 477.2h13.1v13.1h-13.1zM1366.8 464.4h13.1v13.1h-13.1zM1405.2 464.4h13.1v13.1h-13.1zM1443.6 464.4h13.1v13.1h-13.1zM1546 464.4h25.9v13.1h-25.9zM1366.8 451.6h13.1v13.1h-13.1zM1405.2 451.6h13.1v13.1h-13.1zM1546 451.6h13.1v13.1h-13.1zM1200.4 438.8h13.1v13.1h-13.1zM1366.8 438.8h13.1v13.1h-13.1zM1405.2 438.8h13.1v13.1h-13.1zM1469.2 438.8h25.9v13.1h-25.9zM1558.8 438.8h13.1v13.1h-13.1zM1213.2 426h13.1v13.1h-13.1zM1571.6 426h13.1v13.1h-13.1zM1200.4 413.2h13.1v13.1h-13.1zM1379.6 413.2h13.1v13.1h-13.1zM1418 413.2h25.9v13.1h-25.9zM1482 413.2h38.7v13.1h-38.7zM1584.4 413.2h38.7v13.1h-38.7zM1213.2 400.4h13.1v13.1h-13.1zM1405.2 400.4h13.1v13.1h-13.1zM1430.8 400.4h13.1v13.1h-13.1zM1520.4 400.4h13.1v13.1h-13.1zM1597.2 400.4h51.5v13.1h-51.5zM1238.8 387.6h13.1v13.1h-13.1zM1533.2 387.6h13.1v13.1h-13.1zM1610 387.6h13.1v13.1h-13.1zM1635.6 387.6h13.1v13.1h-13.1zM1251.6 374.8h13.1v13.1h-13.1zM1546 374.8h13.1v13.1h-13.1zM1622.8 374.8h13.1v13.1h-13.1zM1546 362h25.9v13.1h-25.9zM1635.6 362h13.1v13.1h-13.1zM1546 349.2h38.7v13.1h-38.7zM1648.4 349.2h13.1v13.1h-13.1zM1558.8 336.4h13.1v13.1h-13.1zM1584.4 336.4h13.1v13.1h-13.1zM1661.2 336.4h13.1v13.1h-13.1zM1558.8 323.6h25.9v13.1h-25.9zM1597.2 323.6h13.1v13.1h-13.1zM1674 323.6h13.1v13.1h-13.1zM1610 310.8h13.1v13.1h-13.1zM1686.8 310.8h13.1v13.1h-13.1zM1622.8 298h13.1v13.1h-13.1zM1699.6 298h25.9v13.1h-25.9zM1635.6 285.2h13.1v13.1h-13.1zM1712.4 285.2h13.1v13.1h-13.1zM1738 285.2h13.1v13.1h-13.1zM1648.4 272.4h13.1v13.1h-13.1zM1725.2 272.4h13.1v13.1h-13.1zM1661.2 259.6h13.1v13.1h-13.1zM1738 259.6h13.1v13.1h-13.1zM1661.2 246.8h25.9v13.1h-25.9zM1750.8 246.8h13.1v13.1h-13.1zM1661.2 234h13.1v13.1h-13.1zM1686.8 234h13.1v13.1h-13.1zM1763.6 234h25.9v13.1h-25.9zM1674 221.2h13.1v13.1h-13.1zM1699.6 221.2h13.1v13.1h-13.1zM1802 221.2h25.9v13.1h-25.9zM1840.4 221.2h13.1v13.1h-13.1zM1712.4 208.4h13.1v13.1h-13.1zM1789.2 208.4h13.1v13.1h-13.1zM1725.2 195.6h13.1v13.1h-13.1zM1802 195.6h13.1v13.1h-13.1zM1814.8 182.8h13.1v13.1h-13.1zM1725.2 170h13.1v13.1h-13.1zM1750.8 170h13.1v13.1h-13.1zM1827.6 170h38.7v13.1h-38.7zM1738 157.2h38.7v13.1h-38.7zM1840.4 157.2h13.1v13.1h-13.1zM1738 144.4h25.9v13.1h-25.9zM1776.4 144.4h13.1v13.1h-13.1zM1853.2 144.4h13.1v13.1h-13.1zM1789.2 131.6h13.1v13.1h-13.1zM1738 118.8h13.1v13.1h-13.1zM1789.2 118.8h25.9v13.1h-25.9zM1789.2 106h13.1v13.1h-13.1zM1814.8 106h13.1v13.1h-13.1z"/>
<path fill="#86a89c" d="M330 1757.2h13.1v13.1h-13.1zM330 1744.4h25.9v13.1h-25.9zM304.4 1731.6h13.1v13.1h-13.1zM355.6 1731.6h13.1v13.1h-13.1zM368.4 1718.8h13.1v13.1h-13.1zM368.4 1706h25.9v13.1h-25.9zM381.2 1693.2h25.9v13.1h-25.9zM394 1680.4h25.9v13.1h-25.9zM202 1667.6h13.1v13.1h-13.1zM406.8 1667.6h25.9v13.1h-25.9zM227.6 1654.8h13.1v13.1h-13.1zM419.6 1654.8h25.9v13.1h-25.9zM214.8 1642h13.1v13.1h-13.1zM432.4 1642h25.9v13.1h-25.9zM202 1629.2h25.9v13.1h-25.9zM445.2 1629.2h25.9v13.1h-25.9zM534.8 1629.2h25.9v13.1h-25.9zM214.8 1616.4h13.1v13.1h-13.1zM458 1616.4h25.9v13.1h-25.9zM496.4 1616.4h13.1v13.1h-13.1zM522 1616.4h38.7v13.1h-38.7zM586 1616.4h13.1v13.1h-13.1zM214.8 1603.6h25.9v13.1h-25.9zM470.8 1603.6h13.1v13.1h-13.1zM496.4 1603.6h13.1v13.1h-13.1zM522 1603.6h13.1v13.1h-13.1zM573.2 1603.6h13.1v13.1h-13.1zM240.4 1590.8h25.9v13.1h-25.9zM496.4 1590.8h13.1v13.1h-13.1zM534.8 1590.8h13.1v13.1h-13.1zM560.4 1590.8h25.9v13.1h-25.9zM253.2 1578h25.9v13.1h-25.9zM509.2 1578h25.9v13.1h-25.9zM266 1565.2h25.9v13.1h-25.9zM586 1565.2h13.1v13.1h-13.1zM624.4 1565.2h25.9v13.1h-25.9zM662.8 1565.2h13.1v13.1h-13.1zM278.8 1552.4h25.9v13.1h-25.9zM509.2 1552.4h25.9v13.1h-25.9zM547.6 1552.4h38.7v13.1h-38.7zM291.6 1539.6h25.9v13.1h-25.9zM509.2 1539.6h25.9v13.1h-25.9zM547.6 1539.6h38.7v13.1h-38.7zM304.4 1526.8h25.9v13.1h-25.9zM586 1526.8h13.1v13.1h-13.1zM317.2 1514h25.9v13.1h-25.9zM560.4 1514h25.9v13.1h-25.9zM317.2 1501.2h38.7v13.1h-38.7zM522 1501.2h25.9v13.1h-25.9zM560.4 1501.2h13.1v13.1h-13.1zM330 1488.4h38.7v13.1h-38.7zM547.6 1488.4h13.1v13.1h-13.1zM342.8 1475.6h38.7v13.1h-38.7zM547.6 1475.6h25.9v13.1h-25.9zM330 1462.8h13.1v13.1h-13.1zM560.4 1462.8h25.9v13.1h-25.9zM662.8 1462.8h13.1v13.1h-13.1zM752.4 1462.8h13.1v13.1h-13.1zM368.4 1450h25.9v13.1h-25.9zM406.8 1450h25.9v13.1h-25.9zM560.4 1450h25.9v13.1h-25.9zM342.8 1437.2h25.9v13.1h-25.9zM381.2 1437.2h13.1v13.1h-13.1zM406.8 1437.2h25.9v13.1h-25.9zM458 1437.2h13.1v13.1h-13.1zM573.2 1437.2h64.2v13.1h-64.2zM586 1424.4h89.9v13.1h-89.9zM752.4 1424.4h38.7v13.1h-38.7zM406.8 1411.6h25.9v13.1h-25.9zM470.8 1411.6h25.9v13.1h-25.9zM637.2 1411.6h13.1v13.1h-13.1zM790.8 1411.6h13.1v13.1h-13.1zM368.4 1398.8h13.1v13.1h-13.1zM406.8 1398.8h25.9v13.1h-25.9zM445.2 1398.8h25.9v13.1h-25.9zM483.6 1398.8h13.1v13.1h-13.1zM688.4 1398.8h38.7v13.1h-38.7zM790.8 1398.8h13.1v13.1h-13.1zM355.6 1386h25.9v13.1h-25.9zM406.8 1386h25.9v13.1h-25.9zM496.4 1386h51.5v13.1h-51.5zM688.4 1386h38.7v13.1h-38.7zM790.8 1386h13.1v13.1h-13.1zM522 1373.2h25.9v13.1h-25.9zM650 1373.2h13.1v13.1h-13.1zM688.4 1373.2h38.7v13.1h-38.7zM778 1373.2h13.1v13.1h-13.1zM522 1360.4h38.7v13.1h-38.7zM688.4 1360.4h38.7v13.1h-38.7zM778 1360.4h13.1v13.1h-13.1zM432.4 1347.6h13.1v13.1h-13.1zM522 1347.6h13.1v13.1h-13.1zM688.4 1347.6h38.7v13.1h-38.7zM752.4 1347.6h13.1v13.1h-13.1zM778 1347.6h13.1v13.1h-13.1zM432.4 1334.8h13.1v13.1h-13.1zM522 1334.8h25.9v13.1h-25.9zM688.4 1334.8h38.7v13.1h-38.7zM778 1334.8h13.1v13.1h-13.1zM534.8 1322h25.9v13.1h-25.9zM688.4 1322h38.7v13.1h-38.7zM752.4 1322h13.1v13.1h-13.1zM534.8 1309.2h13.1v13.1h-13.1zM586 1309.2h13.1v13.1h-13.1zM701.2 1309.2h25.9v13.1h-25.9zM765.2 1309.2h13.1v13.1h-13.1zM496.4 1296.4h25.9v13.1h-25.9zM534.8 1296.4h13.1v13.1h-13.1zM765.2 1296.4h13.1v13.1h-13.1zM752.4 1283.6h25.9v13.1h-25.9zM560.4 1270.8h25.9v13.1h-25.9zM765.2 1270.8h25.9v13.1h-25.9zM560.4 1258h102.7v13.1h-102.7zM560.4 1245.2h102.7v13.1h-102.7zM765.2 1245.2h13.1v13.1h-13.1zM778 1232.4h13.1v13.1h-13.1zM790.8 1219.6h25.9v13.1h-25.9zM496.4 1206.8h13.1v13.1h-13.1zM534.8 1206.8h13.1v13.1h-13.1zM598.8 1206.8h64.2v13.1h-64.2zM675.6 1206.8h13.1v13.1h-13.1zM803.6 1206.8h13.1v13.1h-13.1zM534.8 1194h13.1v13.1h-13.1zM586 1194h25.9v13.1h-25.9zM624.4 1194h13.1v13.1h-13.1zM650 1194h51.5v13.1h-51.5zM714 1194h13.1v13.1h-13.1zM816.4 1194h25.9v13.1h-25.9zM957.2 1194h13.1v13.1h-13.1zM534.8 1181.2h13.1v13.1h-13.1zM586 1181.2h38.7v13.1h-38.7zM688.4 1181.2h13.1v13.1h-13.1zM726.8 1181.2h13.1v13.1h-13.1zM829.2 1181.2h13.1v13.1h-13.1zM547.6 1168.4h25.9v13.1h-25.9zM739.6 1168.4h13.1v13.1h-13.1zM842 1168.4h13.1v13.1h-13.1zM931.6 1168.4h13.1v13.1h-13.1zM752.4 1155.6h13.1v13.1h-13.1zM854.8 1155.6h25.9v13.1h-25.9zM893.2 1155.6h25.9v13.1h-25.9zM765.2 1142.8h13.1v13.1h-13.1zM867.6 1142.8h51.5v13.1h-51.5zM778 1130h13.1v13.1h-13.1zM880.4 1130h13.1v13.1h-13.1zM790.8 1091.6h38.7v13.1h-38.7zM918.8 1091.6h51.5v13.1h-51.5zM816.4 1078.8h13.1v13.1h-13.1zM918.8 1078.8h51.5v13.1h-51.5zM803.6 1066h13.1v13.1h-13.1zM803.6 1053.2h25.9v13.1h-25.9zM957.2 1053.2h25.9v13.1h-25.9zM867.6 1040.4h13.1v13.1h-13.1zM970 1040.4h25.9v13.1h-25.9zM867.6 1027.6h25.9v13.1h-25.9zM982.8 1027.6h25.9v13.1h-25.9zM867.6 1014.8h38.7v13.1h-38.7zM995.6 1014.8h25.9v13.1h-25.9zM867.6 1002h25.9v13.1h-25.9zM1021.2 1002h13.1v13.1h-13.1zM906 989.2h13.1v13.1h-13.1zM1021.2 989.2h25.9v13.1h-25.9zM1200.4 989.2h13.1v13.1h-13.1zM918.8 976.4h13.1v13.1h-13.1zM1034 976.4h25.9v13.1h-25.9zM931.6 963.6h13.1v13.1h-13.1zM1046.8 963.6h25.9v13.1h-25.9zM944.4 950.8h13.1v13.1h-13.1zM1059.6 950.8h13.1v13.1h-13.1zM1085.2 950.8h13.1v13.1h-13.1zM957.2 938h25.9v13.1h-25.9zM1072.4 938h51.5v13.1h-51.5zM970 925.2h25.9v13.1h-25.9zM1085.2 925.2h25.9v13.1h-25.9zM1123.6 925.2h13.1v13.1h-13.1zM970 912.4h38.7v13.1h-38.7zM1123.6 912.4h25.9v13.1h-25.9zM982.8 899.6h38.7v13.1h-38.7zM1123.6 899.6h13.1v13.1h-13.1zM995.6 886.8h13.1v13.1h-13.1zM1021.2 874h38.7v13.1h-38.7zM1021.2 861.2h25.9v13.1h-25.9zM1149.2 861.2h38.7v13.1h-38.7zM1021.2 848.4h13.1v13.1h-13.1zM1187.6 848.4h25.9v13.1h-25.9zM1034 835.6h51.5v13.1h-51.5zM1174.8 835.6h38.7v13.1h-38.7zM1046.8 822.8h13.1v13.1h-13.1zM1174.8 822.8h13.1v13.1h-13.1zM1213.2 822.8h25.9v13.1h-25.9zM1098 810h13.1v13.1h-13.1zM1238.8 810h13.1v13.1h-13.1zM1098 797.2h25.9v13.1h-25.9zM1238.8 797.2h13.1v13.1h-13.1zM1098 784.4h13.1v13.1h-13.1zM1123.6 784.4h13.1v13.1h-13.1zM1238.8 784.4h13.1v13.1h-13.1zM1110.8 771.6h25.9v13.1h-25.9zM1238.8 771.6h13.1v13.1h-13.1zM1264.4 771.6h13.1v13.1h-13.1zM1110.8 758.8h25.9v13.1h-25.9zM1251.6 758.8h13.1v13.1h-13.1zM1136.4 746h13.1v13.1h-13.1zM1264.4 746h25.9v13.1h-25.9zM1136.4 733.2h13.1v13.1h-13.1zM1277.2 733.2h13.1v13.1h-13.1zM1315.6 733.2h13.1v13.1h-13.1zM1494.8 733.2h13.1v13.1h-13.1zM1290 720.4h13.1v13.1h-13.1zM1328.4 720.4h25.9v13.1h-25.9zM1571.6 720.4h13.1v13.1h-13.1zM1328.4 707.6h25.9v13.1h-25.9zM1469.2 707.6h13.1v13.1h-13.1zM1584.4 707.6h13.1v13.1h-13.1zM1200.4 694.8h13.1v13.1h-13.1zM1328.4 694.8h25.9v13.1h-25.9zM1456.4 694.8h25.9v13.1h-25.9zM1494.8 694.8h13.1v13.1h-13.1zM1213.2 682h25.9v13.1h-25.9zM1366.8 682h13.1v13.1h-13.1zM1443.6 682h13.1v13.1h-13.1zM1238.8 669.2h13.1v13.1h-13.1zM1354 669.2h13.1v13.1h-13.1zM1443.6 669.2h13.1v13.1h-13.1zM1226 643.6h25.9v13.1h-25.9zM1379.6 643.6h38.7v13.1h-38.7zM1430.8 643.6h13.1v13.1h-13.1zM1238.8 630.8h38.7v13.1h-38.7zM1405.2 630.8h25.9v13.1h-25.9zM1520.4 630.8h38.7v13.1h-38.7zM1238.8 618h38.7v13.1h-38.7zM1405.2 618h25.9v13.1h-25.9zM1584.4 618h13.1v13.1h-13.1zM1290 605.2h38.7v13.1h-38.7zM1520.4 605.2h25.9v13.1h-25.9zM1584.4 605.2h13.1v13.1h-13.1zM1264.4 592.4h25.9v13.1h-25.9zM1315.6 592.4h25.9v13.1h-25.9zM1482 592.4h38.7v13.1h-38.7zM1226 579.6h13.1v13.1h-13.1zM1315.6 579.6h25.9v13.1h-25.9zM1456.4 579.6h25.9v13.1h-25.9zM1533.2 579.6h13.1v13.1h-13.1zM1315.6 566.8h13.1v13.1h-13.1zM1341.2 566.8h13.1v13.1h-13.1zM1443.6 566.8h38.7v13.1h-38.7zM1315.6 554h13.1v13.1h-13.1zM1469.2 554h25.9v13.1h-25.9zM1328.4 541.2h25.9v13.1h-25.9zM1469.2 541.2h13.1v13.1h-13.1zM1226 528.4h13.1v13.1h-13.1zM1507.6 528.4h25.9v13.1h-25.9zM1226 515.6h13.1v13.1h-13.1zM1277.2 515.6h25.9v13.1h-25.9zM1494.8 515.6h64.2v13.1h-64.2zM1379.6 502.8h25.9v13.1h-25.9zM1558.8 502.8h13.1v13.1h-13.1zM1226 490h13.1v13.1h-13.1zM1251.6 490h25.9v13.1h-25.9zM1379.6 490h13.1v13.1h-13.1zM1405.2 490h25.9v13.1h-25.9zM1520.4 490h13.1v13.1h-13.1zM1546 490h13.1v13.1h-13.1zM1533.2 477.2h13.1v13.1h-13.1zM1226 464.4h13.1v13.1h-13.1zM1264.4 464.4h13.1v13.1h-13.1zM1354 464.4h13.1v13.1h-13.1zM1430.8 464.4h13.1v13.1h-13.1zM1430.8 451.6h25.9v13.1h-25.9zM1558.8 451.6h13.1v13.1h-13.1zM1328.4 438.8h13.1v13.1h-13.1zM1354 438.8h13.1v13.1h-13.1zM1430.8 438.8h25.9v13.1h-25.9zM1571.6 438.8h13.1v13.1h-13.1zM1610 438.8h13.1v13.1h-13.1zM1328.4 426h13.1v13.1h-13.1zM1354 426h13.1v13.1h-13.1zM1430.8 426h25.9v13.1h-25.9zM1482 426h13.1v13.1h-13.1zM1584.4 426h25.9v13.1h-25.9zM1622.8 426h13.1v13.1h-13.1zM1328.4 413.2h13.1v13.1h-13.1zM1443.6 413.2h13.1v13.1h-13.1zM1469.2 413.2h13.1v13.1h-13.1zM1635.6 413.2h13.1v13.1h-13.1zM1341.2 400.4h25.9v13.1h-25.9zM1456.4 400.4h13.1v13.1h-13.1zM1494.8 400.4h25.9v13.1h-25.9zM1648.4 400.4h13.1v13.1h-13.1zM1520.4 387.6h13.1v13.1h-13.1zM1622.8 387.6h13.1v13.1h-13.1zM1533.2 374.8h13.1v13.1h-13.1zM1635.6 374.8h25.9v13.1h-25.9zM1533.2 362h13.1v13.1h-13.1zM1648.4 362h13.1v13.1h-13.1zM1674 362h13.1v13.1h-13.1zM1520.4 349.2h13.1v13.1h-13.1zM1661.2 349.2h13.1v13.1h-13.1zM1533.2 336.4h13.1v13.1h-13.1zM1571.6 336.4h13.1v13.1h-13.1zM1674 336.4h25.9v13.1h-25.9zM1546 323.6h13.1v13.1h-13.1zM1584.4 323.6h13.1v13.1h-13.1zM1686.8 323.6h13.1v13.1h-13.1zM1712.4 323.6h13.1v13.1h-13.1zM1558.8 310.8h13.1v13.1h-13.1zM1584.4 310.8h25.9v13.1h-25.9zM1699.6 310.8h13.1v13.1h-13.1zM1610 298h13.1v13.1h-13.1zM1725.2 298h25.9v13.1h-25.9zM1597.2 285.2h13.1v13.1h-13.1zM1622.8 285.2h13.1v13.1h-13.1zM1725.2 285.2h13.1v13.1h-13.1zM1750.8 285.2h13.1v13.1h-13.1zM1622.8 272.4h25.9v13.1h-25.9zM1738 272.4h13.1v13.1h-13.1zM1622.8 259.6h13.1v13.1h-13.1zM1648.4 259.6h13.1v13.1h-13.1zM1750.8 259.6h13.1v13.1h-13.1zM1776.4 259.6h13.1v13.1h-13.1zM1635.6 246.8h13.1v13.1h-13.1zM1763.6 246.8h25.9v13.1h-25.9zM1802 246.8h25.9v13.1h-25.9zM1674 234h13.1v13.1h-13.1zM1789.2 234h13.1v13.1h-13.1zM1814.8 234h38.7v13.1h-38.7zM1661.2 221.2h13.1v13.1h-13.1zM1686.8 221.2h13.1v13.1h-13.1zM1853.2 221.2h13.1v13.1h-13.1zM1674 208.4h13.1v13.1h-13.1zM1699.6 208.4h13.1v13.1h-13.1zM1802 208.4h51.5v13.1h-51.5zM1712.4 195.6h13.1v13.1h-13.1zM1814.8 195.6h38.7v13.1h-38.7zM1699.6 182.8h38.7v13.1h-38.7zM1827.6 182.8h38.7v13.1h-38.7zM1712.4 157.2h13.1v13.1h-13.1zM1853.2 157.2h13.1v13.1h-13.1zM1712.4 144.4h25.9v13.1h-25.9zM1763.6 144.4h13.1v13.1h-13.1zM1725.2 131.6h13.1v13.1h-13.1zM1750.8 131.6h38.7v13.1h-38.7zM1725.2 118.8h13.1v13.1h-13.1zM1750.8 118.8h38.7v13.1h-38.7zM1738 106h13.1v13.1h-13.1zM1776.4 106h13.1v13.1h-13.1zM1802 106h13.1v13.1h-13.1z"/>
<path fill="#6288c4" d="M355.6 1757.2h13.1v13.1h-13.1zM368.4 1744.4h13.1v13.1h-13.1zM381.2 1731.6h13.1v13.1h-13.1zM394 1718.8h13.1v13.1h-13.1zM406.8 1706h13.1v13.1h-13.1zM419.6 1693.2h13.1v13.1h-13.1zM432.4 1680.4h13.1v13.1h-13.1zM445.2 1667.6h13.1v13.1h-13.1zM458 1654.8h13.1v13.1h-13.1zM470.8 1642h13.1v13.1h-13.1zM483.6 1629.2h13.1v13.1h-13.1zM214.8 1590.8h13.1v13.1h-13.1zM227.6 1578h13.1v13.1h-13.1zM240.4 1565.2h13.1v13.1h-13.1zM253.2 1552.4h13.1v13.1h-13.1zM266 1539.6h13.1v13.1h-13.1zM278.8 1526.8h13.1v13.1h-13.1zM291.6 1514h13.1v13.1h-13.1z"/>
<path fill="#7298b2" d="M355.6 1744.4h13.1v13.1h-13.1zM368.4 1731.6h13.1v13.1h-13.1zM381.2 1718.8h13.1v13.1h-13.1zM394 1706h13.1v13.1h-13.1zM406.8 1693.2h13.1v13.1h-13.1zM419.6 1680.4h13.1v13.1h-13.1zM432.4 1667.6h13.1v13.1h-13.1zM445.2 1654.8h13.1v13.1h-13.1zM458 1642h13.1v13.1h-13.1zM470.8 1629.2h13.1v13.1h-13.1zM496.4 1629.2h13.1v13.1h-13.1zM483.6 1616.4h13.1v13.1h-13.1zM509.2 1616.4h13.1v13.1h-13.1zM202 1603.6h13.1v13.1h-13.1zM483.6 1603.6h13.1v13.1h-13.1zM509.2 1603.6h13.1v13.1h-13.1zM227.6 1590.8h13.1v13.1h-13.1zM483.6 1590.8h13.1v13.1h-13.1zM509.2 1590.8h25.9v13.1h-25.9zM240.4 1578h13.1v13.1h-13.1zM598.8 1578h13.1v13.1h-13.1zM624.4 1578h13.1v13.1h-13.1zM253.2 1565.2h13.1v13.1h-13.1zM598.8 1565.2h25.9v13.1h-25.9zM650 1565.2h13.1v13.1h-13.1zM266 1552.4h13.1v13.1h-13.1zM586 1552.4h13.1v13.1h-13.1zM278.8 1539.6h13.1v13.1h-13.1zM586 1539.6h13.1v13.1h-13.1zM291.6 1526.8h13.1v13.1h-13.1zM598.8 1526.8h38.7v13.1h-38.7zM650 1526.8h13.1v13.1h-13.1zM304.4 1514h13.1v13.1h-13.1zM598.8 1514h13.1v13.1h-13.1zM624.4 1514h51.5v13.1h-51.5zM304.4 1501.2h13.1v13.1h-13.1zM317.2 1488.4h13.1v13.1h-13.1zM624.4 1488.4h25.9v13.1h-25.9zM330 1475.6h13.1v13.1h-13.1zM637.2 1475.6h38.7v13.1h-38.7zM586 1462.8h25.9v13.1h-25.9zM650 1462.8h13.1v13.1h-13.1zM765.2 1462.8h13.1v13.1h-13.1zM342.8 1450h25.9v13.1h-25.9zM586 1450h25.9v13.1h-25.9zM662.8 1450h13.1v13.1h-13.1zM368.4 1437.2h13.1v13.1h-13.1zM406.8 1373.2h25.9v13.1h-25.9zM496.4 1373.2h25.9v13.1h-25.9zM381.2 1360.4h25.9v13.1h-25.9zM432.4 1360.4h25.9v13.1h-25.9zM496.4 1360.4h25.9v13.1h-25.9zM394 1347.6h13.1v13.1h-13.1zM381.2 1334.8h13.1v13.1h-13.1zM445.2 1334.8h13.1v13.1h-13.1zM470.8 1334.8h13.1v13.1h-13.1zM445.2 1322h13.1v13.1h-13.1zM470.8 1322h25.9v13.1h-25.9zM394 1309.2h13.1v13.1h-13.1zM432.4 1309.2h25.9v13.1h-25.9zM483.6 1309.2h25.9v13.1h-25.9zM445.2 1296.4h13.1v13.1h-13.1zM483.6 1296.4h13.1v13.1h-13.1zM790.8 1232.4h25.9v13.1h-25.9zM496.4 1194h13.1v13.1h-13.1zM842 1194h13.1v13.1h-13.1zM624.4 1181.2h13.1v13.1h-13.1zM854.8 1181.2h13.1v13.1h-13.1zM726.8 1168.4h13.1v13.1h-13.1zM867.6 1168.4h13.1v13.1h-13.1zM726.8 1155.6h25.9v13.1h-25.9zM880.4 1155.6h13.1v13.1h-13.1zM765.2 1130h13.1v13.1h-13.1zM765.2 1117.2h13.1v13.1h-13.1zM778 1104.4h13.1v13.1h-13.1zM803.6 1078.8h13.1v13.1h-13.1zM970 1066h13.1v13.1h-13.1zM982.8 1053.2h13.1v13.1h-13.1zM995.6 1040.4h13.1v13.1h-13.1zM1008.4 1027.6h13.1v13.1h-13.1zM1021.2 1014.8h13.1v13.1h-13.1zM1034 1002h13.1v13.1h-13.1zM893.2 989.2h13.1v13.1h-13.1zM1046.8 989.2h13.1v13.1h-13.1zM906 976.4h13.1v13.1h-13.1zM1059.6 976.4h13.1v13.1h-13.1zM918.8 963.6h13.1v13.1h-13.1zM1072.4 963.6h13.1v13.1h-13.1zM931.6 950.8h13.1v13.1h-13.1zM944.4 938h13.1v13.1h-13.1zM957.2 925.2h13.1v13.1h-13.1zM1110.8 925.2h13.1v13.1h-13.1zM1034 848.4h13.1v13.1h-13.1zM1251.6 784.4h13.1v13.1h-13.1zM1264.4 758.8h25.9v13.1h-25.9zM1290 746h13.1v13.1h-13.1zM1302.8 733.2h13.1v13.1h-13.1zM1379.6 733.2h13.1v13.1h-13.1zM1430.8 733.2h25.9v13.1h-25.9zM1469.2 733.2h13.1v13.1h-13.1zM1405.2 720.4h13.1v13.1h-13.1zM1174.8 707.6h13.1v13.1h-13.1zM1405.2 707.6h64.2v13.1h-64.2zM1187.6 694.8h13.1v13.1h-13.1zM1366.8 694.8h13.1v13.1h-13.1zM1418 694.8h13.1v13.1h-13.1zM1443.6 694.8h13.1v13.1h-13.1zM1200.4 682h13.1v13.1h-13.1zM1213.2 669.2h13.1v13.1h-13.1zM1366.8 669.2h13.1v13.1h-13.1zM1226 656.4h13.1v13.1h-13.1zM1366.8 656.4h25.9v13.1h-25.9zM1290 592.4h25.9v13.1h-25.9zM1302.8 579.6h13.1v13.1h-13.1zM1482 566.8h13.1v13.1h-13.1zM1226 554h38.7v13.1h-38.7zM1251.6 541.2h25.9v13.1h-25.9zM1251.6 528.4h13.1v13.1h-13.1zM1251.6 515.6h25.9v13.1h-25.9zM1392.4 490h13.1v13.1h-13.1zM1392.4 477.2h13.1v13.1h-13.1zM1584.4 451.6h13.1v13.1h-13.1zM1379.6 426h13.1v13.1h-13.1zM1341.2 374.8h25.9v13.1h-25.9zM1507.6 374.8h13.1v13.1h-13.1zM1686.8 349.2h13.1v13.1h-13.1zM1699.6 336.4h13.1v13.1h-13.1zM1610 272.4h13.1v13.1h-13.1z"/>
<path fill="#ff9210" d="M278.8 1731.6h13.1v13.1h-13.1zM291.6 1718.8h13.1v13.1h-13.1zM304.4 1706h13.1v13.1h-13.1zM317.2 1693.2h13.1v13.1h-13.1zM227.6 1680.4h13.1v13.1h-13.1zM330 1680.4h13.1v13.1h-13.1zM240.4 1667.6h13.1v13.1h-13.1zM342.8 1667.6h13.1v13.1h-13.1zM253.2 1654.8h13.1v13.1h-13.1zM355.6 1654.8h13.1v13.1h-13.1zM266 1642h13.1v13.1h-13.1zM368.4 1642h13.1v13.1h-13.1zM278.8 1629.2h13.1v13.1h-13.1zM381.2 1629.2h13.1v13.1h-13.1zM291.6 1616.4h13.1v13.1h-13.1zM394 1616.4h13.1v13.1h-13.1zM304.4 1603.6h13.1v13.1h-13.1zM406.8 1603.6h13.1v13.1h-13.1zM317.2 1590.8h13.1v13.1h-13.1zM419.6 1590.8h13.1v13.1h-13.1zM330 1578h13.1v13.1h-13.1zM432.4 1578h13.1v13.1h-13.1zM342.8 1565.2h13.1v13.1h-13.1zM445.2 1565.2h13.1v13.1h-13.1zM534.8 1565.2h25.9v13.1h-25.9zM355.6 1552.4h13.1v13.1h-13.1zM458 1552.4h13.1v13.1h-13.1zM368.4 1539.6h13.1v13.1h-13.1zM470.8 1539.6h13.1v13.1h-13.1zM381.2 1526.8h13.1v13.1h-13.1zM394 1514h13.1v13.1h-13.1zM483.6 1514h25.9v13.1h-25.9zM406.8 1501.2h13.1v13.1h-13.1zM483.6 1501.2h13.1v13.1h-13.1zM419.6 1488.4h13.1v13.1h-13.1zM445.2 1475.6h25.9v13.1h-25.9zM509.2 1475.6h13.1v13.1h-13.1zM445.2 1462.8h13.1v13.1h-13.1zM522 1462.8h13.1v13.1h-13.1zM483.6 1450h13.1v13.1h-13.1zM496.4 1437.2h13.1v13.1h-13.1zM394 1424.4h13.1v13.1h-13.1zM394 1411.6h13.1v13.1h-13.1zM611.6 1398.8h13.1v13.1h-13.1zM598.8 1386h13.1v13.1h-13.1zM573.2 1360.4h13.1v13.1h-13.1zM560.4 1347.6h13.1v13.1h-13.1zM1776.4 208.4h13.1v13.1h-13.1zM1750.8 182.8h13.1v13.1h-13.1z"/>
<path fill="#ff7309" d="M278.8 1718.8h13.1v13.1h-13.1zM291.6 1706h13.1v13.1h-13.1zM304.4 1693.2h13.1v13.1h-13.1zM240.4 1680.4h13.1v13.1h-13.1zM317.2 1680.4h13.1v13.1h-13.1zM253.2 1667.6h13.1v13.1h-13.1zM330 1667.6h13.1v13.1h-13.1zM266 1654.8h13.1v13.1h-13.1zM342.8 1654.8h13.1v13.1h-13.1zM278.8 1642h13.1v13.1h-13.1zM355.6 1642h13.1v13.1h-13.1zM291.6 1629.2h13.1v13.1h-13.1zM368.4 1629.2h13.1v13.1h-13.1zM304.4 1616.4h13.1v13.1h-13.1zM381.2 1616.4h13.1v13.1h-13.1zM317.2 1603.6h13.1v13.1h-13.1zM394 1603.6h13.1v13.1h-13.1zM330 1590.8h13.1v13.1h-13.1zM406.8 1590.8h13.1v13.1h-13.1zM342.8 1578h13.1v13.1h-13.1zM419.6 1578h13.1v13.1h-13.1zM355.6 1565.2h13.1v13.1h-13.1zM432.4 1565.2h13.1v13.1h-13.1zM368.4 1552.4h13.1v13.1h-13.1zM445.2 1552.4h13.1v13.1h-13.1zM381.2 1539.6h13.1v13.1h-13.1zM458 1539.6h13.1v13.1h-13.1zM394 1526.8h13.1v13.1h-13.1zM470.8 1526.8h13.1v13.1h-13.1zM534.8 1526.8h13.1v13.1h-13.1zM406.8 1514h13.1v13.1h-13.1zM419.6 1501.2h13.1v13.1h-13.1zM432.4 1488.4h13.1v13.1h-13.1zM496.4 1488.4h13.1v13.1h-13.1zM470.8 1462.8h13.1v13.1h-13.1zM534.8 1462.8h13.1v13.1h-13.1zM432.4 1424.4h13.1v13.1h-13.1zM496.4 1424.4h13.1v13.1h-13.1zM726.8 1296.4h13.1v13.1h-13.1zM714 1270.8h25.9v13.1h-25.9zM739.6 1258h13.1v13.1h-13.1zM688.4 1245.2h13.1v13.1h-13.1zM662.8 1232.4h13.1v13.1h-13.1zM688.4 1232.4h13.1v13.1h-13.1zM701.2 1219.6h13.1v13.1h-13.1zM1315.6 682h13.1v13.1h-13.1zM1277.2 643.6h13.1v13.1h-13.1zM1405.2 605.2h13.1v13.1h-13.1zM1392.4 592.4h25.9v13.1h-25.9zM1366.8 566.8h13.1v13.1h-13.1zM1354 554h25.9v13.1h-25.9zM1443.6 541.2h13.1v13.1h-13.1zM1418 515.6h13.1v13.1h-13.1z"/>
<path fill="#ff4500" d="M496.4 1526.8h13.1v13.1h-13.1zM432.4 1462.8h13.1v13.1h-13.1z"/>
</g>
<rect x="205" y="1615.9" width="1658" height="1.1" fill="#fff"/>
<rect x="1889" y="1666" width="12" height="104.5" fill="#ff0000"/>
<rect x="1889" y="1562" width="12" height="104.5" fill="#ff2200"/>
<rect x="1889" y="1458" width="12" height="104.5" fill="#ff4400"/>
<rect x="1889" y="1354" width="12" height="104.5" fill="#ff6600"/>
<rect x="1889" y="1250" width="12" height="104.5" fill="#ff8c00"/>
<rect x="1889" y="1146" width="12" height="104.5" fill="#ffa500"/>
<rect x="1889" y="1042" width="12" height="104.5" fill="#a3c08a"/>
<rect x="1889" y="938" width="12" height="104.5" fill="#9cb98f"/>
<rect x="1889" y="834" width="12" height="104.5" fill="#95b395"/>
<rect x="1889" y="730" width="12" height="104.5" fill="#8eac9b"/>
<rect x="1889" y="626" width="12" height="104.5" fill="#87a6a1"/>
<rect x="1889" y="522" width="12" height="104.5" fill="#80a0a7"/>
<rect x="1889" y="418" width="12" height="104.5" fill="#7999ad"/>
<rect x="1889" y="314" width="12" height="104.5" fill="#7193b3"/>
<rect x="1889" y="210" width="12" height="104.5" fill="#6a8cb9"/>
<rect x="1889" y="106" width="12" height="104.5" fill="#0000ff"/>
<g stroke="#000" stroke-width="5.5" stroke-linecap="round" fill="none">
<path d="M451.6 1770V1775.9M451.6 106V100.1M202 1520.4H196.2M1866 1520.4H1871.8"/>
<path d="M707.6 1770V1775.9M707.6 106V100.1M202 1264.4H196.2M1866 1264.4H1871.8"/>
<path d="M963.6 1770V1775.9M963.6 106V100.1M202 1008.4H196.2M1866 1008.4H1871.8"/>
<path d="M1219.6 1770V1775.9M1219.6 106V100.1M202 752.4H196.2M1866 752.4H1871.8"/>
<path d="M1475.6 1770V1775.9M1475.6 106V100.1M202 496.4H196.2M1866 496.4H1871.8"/>
<path d="M1731.6 1770V1775.9M1731.6 106V100.1M202 240.4H196.2M1866 240.4H1871.8"/>
<path d="M1901 207.9H1905.6"/>
<path d="M1901 613.3H1905.6"/>
<path d="M1901 1018.7H1905.6"/>
<path d="M1901 1424.1H1905.6"/>
</g>
<rect x="202" y="106" width="1664" height="1664" fill="none" stroke="#000" stroke-width="6" stroke-linejoin="round"/>
<rect x="1889" y="106" width="12" height="1664" fill="none" stroke="#000" stroke-width="6" stroke-linejoin="round"/>
<text class="tl" transform="translate(451.6 1824.8) scale(1 1.035)" text-anchor="middle">20</text>
<text class="tl" transform="translate(190.5 1542.4) scale(1 1.035)" text-anchor="end">20</text>
<text class="tl" transform="translate(707.6 1824.8) scale(1 1.035)" text-anchor="middle">40</text>
<text class="tl" transform="translate(190.5 1286.4) scale(1 1.035)" text-anchor="end">40</text>
<text class="tl" transform="translate(963.6 1824.8) scale(1 1.035)" text-anchor="middle">60</text>
<text class="tl" transform="translate(190.5 1030.4) scale(1 1.035)" text-anchor="end">60</text>
<text class="tl" transform="translate(1219.6 1824.8) scale(1 1.035)" text-anchor="middle">80</text>
<text class="tl" transform="translate(190.5 774.4) scale(1 1.035)" text-anchor="end">80</text>
<text class="tl" transform="translate(1475.6 1824.8) scale(1 1.035)" text-anchor="middle">100</text>
<text class="tl" transform="translate(190.5 518.4) scale(1 1.035)" text-anchor="end">100</text>
<text class="tl" transform="translate(1731.6 1824.8) scale(1 1.035)" text-anchor="middle">120</text>
<text class="tl" transform="translate(190.5 262.4) scale(1 1.035)" text-anchor="end">120</text>
<text class="cl" transform="translate(1909.5 226.5) scale(1 1.045)">20</text>
<text class="cl" transform="translate(1909.5 631.9) scale(1 1.045)">15</text>
<text class="cl" transform="translate(1909.5 1037.3) scale(1 1.045)">10</text>
<text class="cl" transform="translate(1909.5 1442.7) scale(1 1.045)">5</text>
<text class="ttl" transform="translate(1034 1881) scale(1 1.035)" text-anchor="middle">Residue index</text>
<text class="ttl" transform="translate(80 938) rotate(-90) scale(1 1.03)" text-anchor="middle">Residue index</text>
</svg></body></html>
